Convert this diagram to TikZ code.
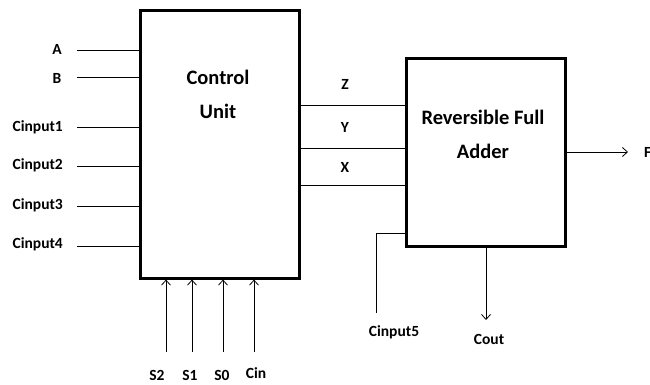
\documentclass[tikz,border=0pt]{standalone}
\usepackage{fontspec}
\setmainfont{Carlito}
\usetikzlibrary{arrows.meta}
\begin{document}
\begin{tikzpicture}[x=1pt,y=-1pt,
  blk/.style={draw,line width=2.6pt,inner sep=0pt},
  wire/.style={line width=0.8pt},
  arr/.style={line width=0.8pt,-{Straight Barb[length=5pt,width=9pt,line width=0.8pt]}},
  lbl/.style={font=\bfseries\fontsize{15.5}{18}\selectfont,inner sep=0pt},
  big/.style={font=\bfseries\fontsize{20.5}{24}\selectfont,inner sep=0pt,align=center}]
\useasboundingbox[fill=white] (0,0) rectangle (650,385);
% blocks
\node[blk,minimum width=159pt,minimum height=268pt,anchor=north west] (cu) at (139,9) {};
\node[blk,minimum width=159pt,minimum height=188pt,anchor=north west] (rfa) at (405,57) {};
\node[big] (cut1) at (218,77) {Control};
\node[big] (cut2) at (218,111) {Unit};
\node[big] (rt1) at (483,117) {Reversible Full};
\node[big] (rt2) at (483,151) {Adder};
% left inputs
\node[lbl] (A) at (57,49) {A};
\node[lbl] (B) at (57,78) {B};
\node[lbl,anchor=east] (c1) at (63,127) {Cinput1};
\node[lbl,anchor=east] (c2) at (63,165) {Cinput2};
\node[lbl,anchor=east] (c3) at (63,205) {Cinput3};
\node[lbl,anchor=east] (c4) at (63,244) {Cinput4};
\coordinate (pa) at (77,50);
\coordinate (pb) at (77,77);
\coordinate (p1) at (77,127);
\coordinate (p2) at (77,166);
\coordinate (p3) at (77,206);
\coordinate (p4) at (77,246);
\foreach \p in {pa,pb,p1,p2,p3,p4} \draw[wire] (\p) -- (\p -| cu.west);
% CU to RFA
\coordinate (z) at (298,105);
\coordinate (y) at (298,148);
\coordinate (x) at (298,185);
\foreach \p in {z,y,x} \draw[wire] (\p) -- (\p -| rfa.west);
\node[lbl] (Z) at (345,84) {Z};
\node[lbl] (Y) at (345,127) {Y};
\node[lbl] (X) at (345,167) {X};
% F output
\coordinate (fo) at (628,152);
\draw[arr] (rfa.east |- fo) -- (fo);
\node[lbl,anchor=west] (F) at (644,152) {F};
% Cinput5
\coordinate (c5a) at (376,233);
\coordinate (c5b) at (376,313);
\draw[wire] (rfa.west |- c5a) -- (c5a) -- (c5b);
\node[lbl] (c5) at (394,332) {Cinput5};
% Cout
\coordinate (co) at (486,320);
\draw[arr] (co |- rfa.south) -- (co);
\node[lbl] (cout) at (489,339) {Cout};
% bottom inputs
\coordinate (s2) at (166,352);
\coordinate (s1) at (192,352);
\coordinate (s0) at (223,352);
\coordinate (ci) at (254,352);
\foreach \p in {s2,s1,s0,ci} \draw[arr] (\p) -- (\p |- cu.south);
\node[lbl] (S2) at (157,375) {S2};
\node[lbl] (S1) at (190,375) {S1};
\node[lbl] (S0) at (222,375) {S0};
\node[lbl] (Cin) at (256,373) {Cin};
\end{tikzpicture}
\end{document}
